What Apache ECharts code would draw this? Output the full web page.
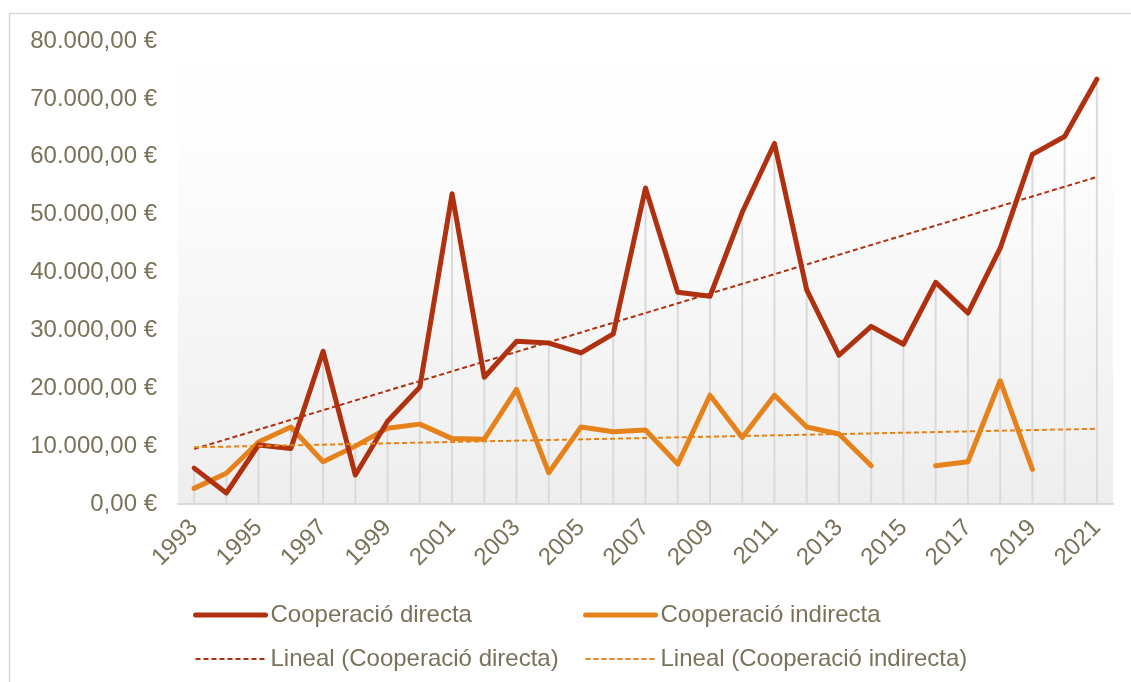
<!DOCTYPE html>
<html>
<head>
<meta charset="utf-8">
<script src="https://cdn.jsdelivr.net/npm/echarts@6/dist/echarts.min.js"></script>
<style>
  html, body { margin: 0; padding: 0; background: #fff; }
  #chart { width: 1131px; height: 682px; }
</style>
</head>
<body>
<div id="chart"></div>
<script>
// years on the x axis
const years = ['1993', '1994', '1995', '1996', '1997', '1998', '1999', '2000', '2001', '2002',
  '2003', '2004', '2005', '2006', '2007', '2008', '2009', '2010', '2011', '2012',
  '2013', '2014', '2015', '2016', '2017', '2018', '2019', '2020', '2021'];

// values (euros)
const directa = [6200, 1900, 10200, 9600, 26400, 5000, 14300, 20200, 53600, 21900,
  28100, 27800, 26100, 29400, 54600, 36600, 35900, 50400, 62300, 37000,
  25700, 30700, 27600, 38300, 33000, 44200, 60400, 63500, 73400];
const indirecta = [2700, 5300, 10700, 13300, 7300, 10000, 13100, 13800, 11300, 11200,
  19800, 5400, 13300, 12500, 12800, 6900, 18800, 11500, 18800, 13300,
  12100, 6600, null, 6600, 7300, 21300, 6000, null, null];

// trend lines, start (1993) and end (2021) as drawn
const trendDirecta = [9500, 56500];
const trendIndirecta = [9800, 13000];

const red = '#B0310F';
const orange = '#E5821B';
const textColor = '#7A7359';
const font = 'Liberation Sans, Arial, sans-serif';

// grey drop lines run from the top point of each year to the axis
const dropLines = years.map((y, i) => Math.max(directa[i] || 0, indirecta[i] || 0));

const fmtEuro = v => {
  const s = Math.round(v).toString().replace(/\B(?=(\d{3})+(?!\d))/g, '.');
  return s + ',00 €';
};

const chart = echarts.init(document.getElementById('chart'));

const legendBase = {
  orient: 'vertical',
  top: 603,
  padding: 0,
  itemWidth: 70, itemHeight: 14, itemGap: 20,
  itemStyle: {opacity: 0},
  lineStyle: {width: 'inherit', cap: 'inherit'},
  textStyle: {color: textColor, fontSize: 24, fontFamily: font}
};

chart.setOption({
  animation: false,
  backgroundColor: '#fff',
  textStyle: {fontFamily: font},
  graphic: [{
    type: 'rect',
    left: 7, top: 11,
    shape: {width: 1300, height: 800},
    style: {fill: 'none', stroke: '#d9d9d9', lineWidth: 1.5},
    silent: true
  }],
  grid: {
    left: 178, right: 18, top: 41, bottom: 178,
    show: true,
    borderWidth: 0,
    backgroundColor: new echarts.graphic.LinearGradient(0, 0, 0, 1, [
      {offset: 0, color: '#ffffff'},
      {offset: 0.3, color: '#fcfcfc'},
      {offset: 1, color: '#eeeeee'}
    ])
  },
  legend: [
    Object.assign({}, legendBase, {left: 193, data: ['Cooperació directa', 'Lineal (Cooperació directa)']}),
    Object.assign({}, legendBase, {left: 583, data: ['Cooperació indirecta', 'Lineal (Cooperació indirecta)']})
  ],
  xAxis: {
    type: 'category',
    data: years,
    boundaryGap: true,
    axisLine: {lineStyle: {color: '#d9d9d9', width: 2}},
    axisTick: {show: false},
    axisLabel: {
      interval: 1,
      rotate: 45,
      color: textColor,
      fontSize: 24,
      fontFamily: font,
      margin: 20
    },
    splitLine: {show: false}
  },
  yAxis: {
    type: 'value',
    min: 0, max: 80000, interval: 10000,
    axisLine: {show: false},
    axisTick: {show: false},
    splitLine: {show: false},
    axisLabel: {
      color: textColor,
      fontSize: 24,
      fontFamily: font,
      margin: 21,
      formatter: fmtEuro
    }
  },
  series: [{
    name: 'drop',
    type: 'bar',
    data: dropLines,
    barWidth: 2,
    itemStyle: {color: '#dadada'},
    silent: true,
    z: 1
  }, {
    name: 'Cooperació directa',
    type: 'line',
    data: directa,
    symbol: 'none',
    lineStyle: {color: red, width: 5, cap: 'round', join: 'round'},
    itemStyle: {color: red},
    z: 4
  }, {
    name: 'Cooperació indirecta',
    type: 'line',
    data: indirecta,
    symbol: 'none',
    lineStyle: {color: orange, width: 5, cap: 'round', join: 'round'},
    itemStyle: {color: orange},
    z: 3
  }, {
    name: 'Lineal (Cooperació directa)',
    type: 'line',
    data: [[years[0], trendDirecta[0]], [years[years.length - 1], trendDirecta[1]]],
    symbol: 'none',
    lineStyle: {color: red, width: 2, type: [5, 3], cap: 'butt'},
    itemStyle: {color: red},
    z: 5
  }, {
    name: 'Lineal (Cooperació indirecta)',
    type: 'line',
    data: [[years[0], trendIndirecta[0]], [years[years.length - 1], trendIndirecta[1]]],
    symbol: 'none',
    lineStyle: {color: orange, width: 2, type: [5, 3], cap: 'butt'},
    itemStyle: {color: orange},
    z: 5
  }]
});
</script>
</body>
</html>
